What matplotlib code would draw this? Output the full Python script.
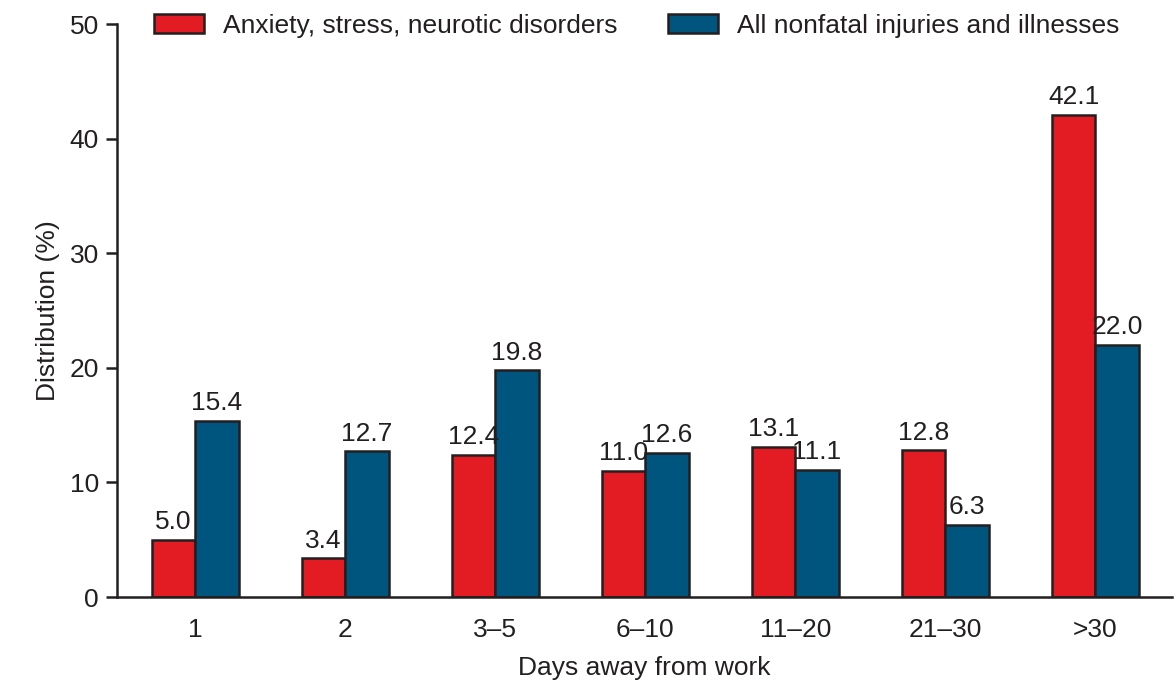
import matplotlib.pyplot as plt
import numpy as np

plt.rcParams['font.family'] = ['Liberation Sans', 'DejaVu Sans']

categories = ['1', '2', '3–5', '6–10', '11–20', '21–30', '>30']
anxiety = [5.0, 3.4, 12.4, 11.0, 13.1, 12.8, 42.1]
all_nonfatal = [15.4, 12.7, 19.8, 12.6, 11.1, 6.3, 22.0]

red = '#e31b23'
blue = '#00557f'
edge = '#231f20'
fs = 19

fig = plt.figure(figsize=(11.76, 6.82), dpi=100)
ax = fig.add_axes([0.0995, 0.1246, 0.897, 0.8402])

x = np.arange(len(categories))
w = 0.29
b1 = ax.bar(x - w / 2, anxiety, w, color=red, edgecolor=edge, linewidth=1.8,
            label='Anxiety, stress, neurotic disorders')
b2 = ax.bar(x + w / 2, all_nonfatal, w, color=blue, edgecolor=edge, linewidth=1.8,
            label='All nonfatal injuries and illnesses')

# value labels above the bars
for bars in (b1, b2):
    for r in bars:
        ax.annotate(f'{r.get_height():.1f}', (r.get_x() + r.get_width() / 2, r.get_height()),
                    xytext=(0, 4), textcoords='offset points', ha='center', va='bottom',
                    fontsize=fs, color=edge)

ax.set_xlim(-0.52, 6.51)
ax.set_ylim(0, 50)
ax.set_yticks([0, 10, 20, 30, 40, 50])
ax.set_xticks(x)
ax.set_xticklabels(categories)
ax.tick_params(axis='y', length=8, width=1.8, color=edge, labelsize=fs, pad=5, labelcolor=edge)
ax.tick_params(axis='x', length=0, labelsize=fs, pad=15, labelcolor=edge)
for s in ['top', 'right']:
    ax.spines[s].set_visible(False)
for s in ['left', 'bottom']:
    ax.spines[s].set_linewidth(1.8)
    ax.spines[s].set_color(edge)

ax.set_xlabel('Days away from work', fontsize=fs, color=edge, labelpad=10)
ax.set_ylabel('Distribution (%)', fontsize=fs, color=edge, labelpad=7)

ax.legend(loc='upper left', bbox_to_anchor=(0.035, 1.018), ncol=2, frameon=False,
          borderpad=0, borderaxespad=0,
          fontsize=fs, handlelength=1.9, handleheight=0.7, columnspacing=1.9,
          handletextpad=0.72, labelcolor=edge)

fig.savefig('out.png', dpi=100)
